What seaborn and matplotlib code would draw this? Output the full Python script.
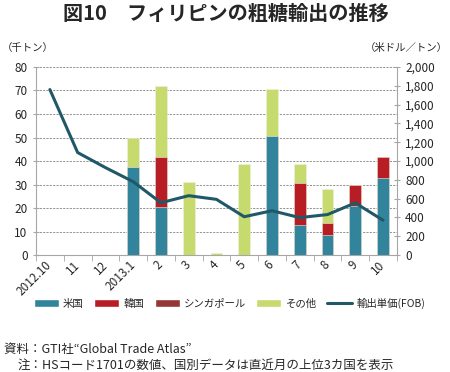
import numpy as np
import pandas as pd
import matplotlib
matplotlib.use("Agg")
import matplotlib.pyplot as plt
import seaborn as sns
from matplotlib.patches import Patch
from matplotlib.lines import Line2D
from matplotlib.ticker import FuncFormatter

# データ（千トン / 米ドル・トン）
months = ["2012.10", "11", "12", "2013.1", "2", "3", "4", "5", "6", "7", "8", "9", "10"]
us = [0, 0, 0, 37.5, 20.5, 0, 0, 0, 50.7, 12.7, 8.5, 21.0, 32.7]
korea = [0, 0, 0, 0, 21.3, 0, 0, 0, 0, 17.9, 5.2, 8.6, 9.0]
singapore = [0, 0, 0, 0, 0, 0, 0, 0, 0, 0, 0, 0, 0]
other = [0, 0, 0, 12.5, 30.3, 30.9, 0.9, 38.8, 20.1, 8.0, 14.2, 0, 0]
price = [1760, 1090, 930, 780, 556, 631, 592, 407, 471, 398, 430, 554, 370]

series_names = ["米国", "韓国", "シンガポール", "その他"]
line_name = "輸出単価(FOB)"

c_us = "#31849B"
c_kr = "#B81D26"
c_sg = "#953735"
c_ot = "#C6DA6E"
c_line = "#215868"
c_axis = "#A6A6A6"

sns.set_style("white")
plt.rcParams['font.family'] = ['Noto Sans CJK JP', 'DejaVu Sans']

df = pd.DataFrame({"月": months, "米国": us, "韓国": korea,
                   "シンガポール": singapore, "その他": other, "単価": price})
df["s1"] = df["米国"]
df["s2"] = df["s1"] + df["韓国"]
df["s3"] = df["s2"] + df["シンガポール"]
df["s4"] = df["s3"] + df["その他"]

fig = plt.figure(figsize=(4.5, 3.72), dpi=100)
ax = fig.add_axes([0.08, 0.3145, 0.802, 0.5054])

# 積み上げ棒（上から順に重ねる）
for col, c in [("s4", c_ot), ("s3", c_sg), ("s2", c_kr), ("s1", c_us)]:
    sns.barplot(data=df, x="月", y=col, color=c, saturation=1, width=0.42,
                edgecolor="#EEF2E0", linewidth=0.4, ax=ax)

ax.set_ylim(0, 80)
ax.set_yticks(np.arange(0, 81, 10))
ax.set_axisbelow(True)
ax.yaxis.grid(True, linestyle=(0, (2.5, 1.5)), color="#7F7F7F", linewidth=0.6)
ax.set_xlabel("")
ax.set_ylabel("")

ax2 = ax.twinx()
sns.lineplot(data=df, x="月", y="単価", color=c_line, linewidth=2.2,
             sort=False, ax=ax2, legend=False)
ax2.set_ylim(0, 2000)
ax2.set_yticks(np.arange(0, 2001, 200))
ax2.yaxis.set_major_formatter(FuncFormatter(lambda v, p: f"{int(v):,}"))
ax2.set_ylabel("")
ax2.set_xlabel("")
ax.set_xlim(-0.5, len(months) - 0.5)

for a in (ax, ax2):
    a.spines["top"].set_visible(False)
    for s in a.spines.values():
        s.set_color(c_axis)
ax.spines["right"].set_visible(False)
ax2.spines["left"].set_visible(False)
ax2.spines["bottom"].set_visible(False)

ax.tick_params(axis="y", direction="inout", length=4, color=c_axis,
               labelsize=8.5, pad=4, left=True)
ax2.tick_params(axis="y", direction="inout", length=4, color=c_axis,
                labelsize=8.5, pad=4, right=True)

ax.set_xticks(np.arange(-0.5, len(months), 1), minor=True)
ax.tick_params(axis="x", which="major", length=0, labelsize=8.5, pad=6)
ax.tick_params(axis="x", which="minor", length=4, color=c_axis, direction="out", bottom=True)
for lab in ax.get_xticklabels():
    lab.set_rotation(45)
    lab.set_ha("right")
    lab.set_va("center")
    lab.set_rotation_mode("anchor")

# タイトル・単位
fig.text(0.502, 0.964, "図10　フィリピンの粗糖輸出の推移", ha="center", va="center",
         fontsize=14.5, fontweight="bold")
fig.text(0.005, 1 - 48 / 372, "（千トン）", ha="left", va="center", fontsize=7.5)
fig.text(0.995, 1 - 48 / 372, "（米ドル／トン）", ha="right", va="center", fontsize=7.5)

# 凡例
handles = [Patch(facecolor=c) for c in (c_us, c_kr, c_sg, c_ot)]
handles.append(Line2D([0], [0], color=c_line, linewidth=2.2))
fig.legend(handles, series_names + [line_name], loc="center", ncol=5,
           bbox_to_anchor=(0.51, 0.185), frameon=False, fontsize=7.5,
           handlelength=2.4, handleheight=0.7, handletextpad=0.4, columnspacing=1.0)

# 注記
fig.text(0.009, 1 - 349 / 372, "資料：GTI社“Global Trade Atlas”", ha="left", va="center", fontsize=9)
fig.text(0.038, 1 - 366 / 372, "注：HSコード1701の数値、国別データは直近月の上位3カ国を表示",
         ha="left", va="center", fontsize=9)

fig.savefig("out.png", dpi=100)
